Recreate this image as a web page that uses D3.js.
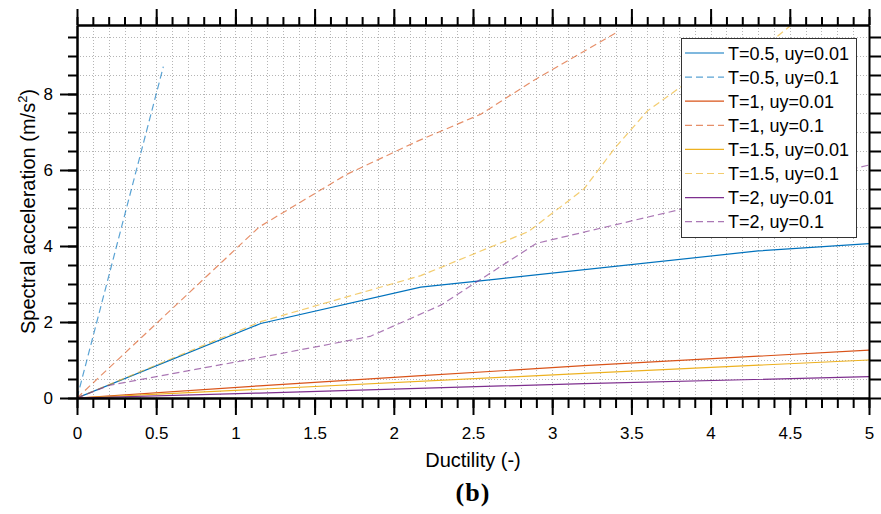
<!DOCTYPE html>
<html>
<head>
<meta charset="utf-8">
<script src="https://cdn.jsdelivr.net/npm/d3@7"></script>
<style>
  body { margin: 0; background: #fff; }
  svg text { font-family: "Liberation Sans", Arial, sans-serif; }
</style>
</head>
<body>
<svg id="chart"></svg>
<script>
// series: ductility (x) and spectral acceleration (y)
const ductT05u001 = [0, 1.16, 2.17, 2.65, 4.3, 5];
const saT05u001   = [0, 1.96, 2.92, 3.13, 3.87, 4.06];
const ductT05u01  = [0, 0.545];
const saT05u01    = [0, 8.72];
const ductT1u001  = [0, 1.15, 2.15, 3.2, 4.3, 5];
const saT1u001    = [0, 0.32, 0.58, 0.85, 1.1, 1.26];
const ductT1u01   = [0, 1.15, 1.7, 2.15, 2.55, 2.88, 3.41];
const saT1u01     = [0, 4.5, 5.88, 6.76, 7.47, 8.35, 9.63];
const ductT15u001 = [0, 1.15, 3.2, 5];
const saT15u001   = [0, 0.23, 0.65, 1.0];
const ductT15u01  = [0, 1.16, 2.17, 2.85, 3.2, 3.4, 3.6, 3.85, 4.38, 4.55];
const saT15u01    = [0, 2.01, 3.22, 4.38, 5.5, 6.6, 7.55, 8.3, 9.38, 9.95];
const ductT2u001  = [0, 1.15, 3.2, 5];
const saT2u001    = [0, 0.13, 0.38, 0.56];
const ductT2u01   = [0, 0.2, 1.15, 1.85, 2.3, 2.9, 5];
const saT2u01     = [0, 0.33, 1.06, 1.62, 2.45, 4.07, 6.13];

const seriesNames = ["T=0.5, uy=0.01", "T=0.5, uy=0.1", "T=1, uy=0.01", "T=1, uy=0.1",
                     "T=1.5, uy=0.01", "T=1.5, uy=0.1", "T=2, uy=0.01", "T=2, uy=0.1"];
const xMajorTicks = [0, 0.5, 1, 1.5, 2, 2.5, 3, 3.5, 4, 4.5, 5];
const yMajorTicks = [0, 2, 4, 6, 8];

const width = 881, height = 514;
const mLeft = 77, mRight = 869, mTop = 25, mBottom = 398;

const colors = ["#0072BD", "#D95319", "#EDB120", "#7E2F8E"];

const series = [
  {name: seriesNames[0], x: ductT05u001, y: saT05u001, c: colors[0], dash: false},
  {name: seriesNames[1], x: ductT05u01,  y: saT05u01,  c: colors[0], dash: true},
  {name: seriesNames[2], x: ductT1u001,  y: saT1u001,  c: colors[1], dash: false},
  {name: seriesNames[3], x: ductT1u01,   y: saT1u01,   c: colors[1], dash: true},
  {name: seriesNames[4], x: ductT15u001, y: saT15u001, c: colors[2], dash: false},
  {name: seriesNames[5], x: ductT15u01,  y: saT15u01,  c: colors[2], dash: true},
  {name: seriesNames[6], x: ductT2u001,  y: saT2u001,  c: colors[3], dash: false},
  {name: seriesNames[7], x: ductT2u01,   y: saT2u01,   c: colors[3], dash: true}
];

const svg = d3.select("#chart").attr("width", width).attr("height", height);

const x = d3.scaleLinear().domain([0, 5]).range([mLeft, mRight]);
const y = d3.scaleLinear().domain([0, (mBottom - mTop) / 38]).range([mBottom, mTop]);

const xMinor = d3.range(0, 5.0001, 0.1).map(d => +d.toFixed(1));
const yMinor = d3.range(0, 9.8, 0.5);

// dotted grid
const grid = svg.append("g").attr("stroke", "#b5b5b5").attr("stroke-width", 1).attr("stroke-dasharray", "1,2");
grid.selectAll(".gx").data(xMinor.slice(1, -1)).enter().append("line")
  .attr("x1", d => Math.round(x(d)) + 0.5).attr("x2", d => Math.round(x(d)) + 0.5)
  .attr("y1", mTop).attr("y2", mBottom);
grid.selectAll(".gy").data(yMinor.slice(1)).enter().append("line")
  .attr("y1", d => Math.round(y(d)) + 0.5).attr("y2", d => Math.round(y(d)) + 0.5)
  .attr("x1", mLeft).attr("x2", mRight);

// lines
svg.append("clipPath").attr("id", "plotclip").append("rect")
  .attr("x", mLeft).attr("y", mTop).attr("width", mRight - mLeft).attr("height", mBottom - mTop);

const line = d3.line().x(d => x(d[0])).y(d => y(d[1]));
svg.append("g").attr("clip-path", "url(#plotclip)")
  .selectAll("path").data(series).enter().append("path")
  .attr("d", s => line(s.x.map((v, i) => [v, s.y[i]])))
  .attr("fill", "none")
  .attr("stroke", s => s.c)
  .attr("stroke-opacity", s => s.dash ? 0.65 : 1)
  .attr("stroke-width", 1.2)
  .attr("stroke-dasharray", s => s.dash ? "7,4" : null);

// axes
function styleAxis(g) {
  g.selectAll("path.domain").attr("stroke", "#000").attr("stroke-width", 2);
  g.selectAll(".tick line").attr("stroke", "#000").attr("stroke-width", 2);
  g.selectAll("text").attr("fill", "#000").attr("font-size", "17px")
    .attr("font-family", "'Liberation Sans', Arial, sans-serif");
}

const fmt = d => d3.format("")(d);

// minor ticks
svg.append("g").attr("transform", `translate(0,${mBottom})`)
  .call(d3.axisBottom(x).tickValues(xMinor).tickSize(10).tickSizeOuter(0).tickFormat("")).call(styleAxis);
svg.append("g").attr("transform", `translate(0,${mTop})`)
  .call(d3.axisTop(x).tickValues(xMinor).tickSize(8).tickSizeOuter(0).tickFormat("")).call(styleAxis);
svg.append("g").attr("transform", `translate(${mLeft},0)`)
  .call(d3.axisLeft(y).tickValues(yMinor).tickSize(9).tickSizeOuter(0).tickFormat("")).call(styleAxis);
svg.append("g").attr("transform", `translate(${mRight},0)`)
  .call(d3.axisRight(y).tickValues(yMinor).tickSize(12).tickSizeOuter(0).tickFormat("")).call(styleAxis);

// major ticks
svg.append("g").attr("transform", `translate(0,${mBottom})`)
  .call(d3.axisBottom(x).tickValues(xMajorTicks).tickSize(17).tickSizeOuter(0).tickPadding(12).tickFormat(fmt)).call(styleAxis);
svg.append("g").attr("transform", `translate(0,${mTop})`)
  .call(d3.axisTop(x).tickValues(xMajorTicks).tickSize(16).tickSizeOuter(0).tickFormat("")).call(styleAxis);
svg.append("g").attr("transform", `translate(${mLeft},0)`)
  .call(d3.axisLeft(y).tickValues(yMajorTicks).tickSize(17).tickSizeOuter(0).tickPadding(7).tickFormat(fmt)).call(styleAxis);

// axis titles
svg.append("text").attr("x", (mLeft + mRight) / 2).attr("y", 467)
  .attr("text-anchor", "middle").attr("font-size", "20px").text("Ductility (-)");

const yt = svg.append("text").attr("transform", `translate(35,${(mTop + mBottom) / 2}) rotate(-90)`)
  .attr("text-anchor", "middle").attr("font-size", "20px");
yt.append("tspan").text("Spectral acceleration (m/s");
yt.append("tspan").attr("font-size", "13px").attr("dy", "-8").text("2");
yt.append("tspan").attr("dy", "8").text(")");

svg.append("text").attr("x", (mLeft + mRight) / 2).attr("y", 501)
  .attr("text-anchor", "middle").attr("font-size", "26px").attr("font-weight", "bold")
  .attr("letter-spacing", "1px")
  .style("font-family", "'Liberation Serif', 'Times New Roman', serif")
  .text("(b)");

// legend
const lg = svg.append("g").attr("transform", "translate(681,38)");
lg.append("rect").attr("x", 0.5).attr("y", 0.5).attr("width", 175).attr("height", 199)
  .attr("fill", "#fff").attr("stroke", "#333").attr("stroke-width", 1);
const items = lg.selectAll(".item").data(series).enter().append("g")
  .attr("transform", (d, i) => `translate(0,${15 + i * 24.1})`);
items.append("line").attr("x1", 4).attr("x2", 43).attr("y1", 0).attr("y2", 0)
  .attr("stroke", s => s.c)
  .attr("stroke-opacity", s => s.dash ? 0.65 : 1)
  .attr("stroke-width", 1.2)
  .attr("stroke-dasharray", s => s.dash ? "7,4" : null);
items.append("text").attr("x", 47).attr("y", 6.5).attr("font-size", "18px").text(s => s.name);
</script>
</body>
</html>
